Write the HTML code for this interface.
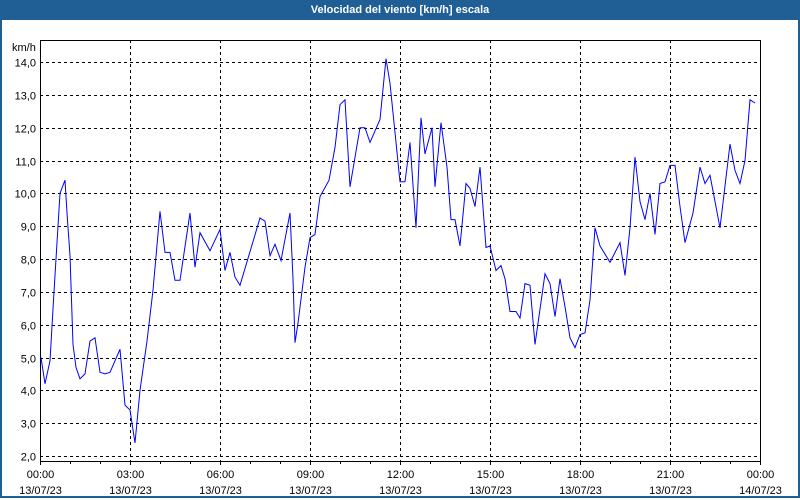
<!DOCTYPE html>
<html><head><meta charset="utf-8"><style>
html,body{margin:0;padding:0;background:#fff;}
#win{position:relative;width:796px;height:496px;border:2px solid #1f5f96;border-top:none;background:#fff;overflow:hidden;}
#title{position:absolute;left:-2px;top:0;width:800px;height:20px;background:#1f5f96;color:#fff;font:bold 11px "Liberation Sans",sans-serif;text-align:center;line-height:20px;}
svg{position:absolute;left:-2px;top:0;}
text{font-family:"Liberation Sans",sans-serif;font-size:11px;fill:#000;}
</style></head><body>
<div id="win">
<div id="title">Velocidad del viento [km/h] escala</div>
<svg id="chart" width="800" height="500"></svg>
</div>
<script>
const yTicks=[2,3,4,5,6,7,8,9,10,11,12,13,14];
const xTickHours=[0,3,6,9,12,15,18,21,24];
const xTickTimes=["00:00","03:00","06:00","09:00","12:00","15:00","18:00","21:00","00:00"];
const xTickDates=["13/07/23","13/07/23","13/07/23","13/07/23","13/07/23","13/07/23","13/07/23","13/07/23","14/07/23"];
const pxX=[41,45,50,54,60,65,67,70,73,76,80,85,90,95,100,105,110,120,125,130,135,140,147,153,160,165,170,175,180,190,195,200,210,220,225,230,235,240,260,265,270,275,281,290,293,295,298,305,310,315,320,329,335,340,345,350,360,365,370,380,386,390,395,400,405,410,416,421,425,432,435,441,447,451,455,460,466,470,475,480,486,490,496,501,505,510,516,520,525,530,535,545,550,555,560,565,570,575,580,585,590,595,600,610,620,625,630,635,640,645,650,655,660,665,670,675,680,685,693,700,705,710,720,730,735,740,745,750,755];
const hours=pxX.map(x=>(x-40)/30);
const speeds=[5.0,4.2,4.9,7.0,10.0,10.4,9.4,8.1,5.4,4.7,4.35,4.5,5.5,5.6,4.55,4.5,4.55,5.25,3.55,3.4,2.4,4.0,5.5,7.05,9.45,8.2,8.2,7.35,7.35,9.4,7.75,8.8,8.25,8.9,7.65,8.2,7.45,7.2,9.25,9.15,8.1,8.45,7.95,9.4,7.4,5.45,6.05,7.75,8.65,8.75,9.9,10.4,11.4,12.7,12.85,10.2,12.0,12.0,11.55,12.25,14.1,13.35,11.85,10.35,10.35,11.55,8.95,12.3,11.2,12.0,10.2,12.15,10.8,9.2,9.2,8.4,10.3,10.15,9.6,10.8,8.35,8.4,7.65,7.8,7.4,6.4,6.4,6.2,7.25,7.2,5.4,7.55,7.25,6.25,7.4,6.55,5.6,5.3,5.7,5.75,6.75,8.95,8.4,7.9,8.5,7.5,8.95,11.1,9.75,9.2,10.0,8.75,10.3,10.35,10.85,10.85,9.6,8.5,9.4,10.8,10.3,10.55,8.95,11.5,10.7,10.3,11.0,12.85,12.75];
const L=40,R=760,T=40,B=461;
const xs=h=>L+h*30;
const ys=v=>456-(v-2)*(394/12);
const svg=document.getElementById('chart');
const NS='http://www.w3.org/2000/svg';
function mk(tag,attrs){const e=document.createElementNS(NS,tag);for(const k in attrs)e.setAttribute(k,attrs[k]);svg.appendChild(e);return e;}
yTicks.forEach(v=>{
  const y=Math.round(ys(v))+0.5;
  const g=mk('line',{x1:L,x2:R,y1:y,y2:y,stroke:'#000','stroke-dasharray':'3,3','stroke-width':1});
  
  
  const t=mk('text',{x:36,y:y+4,'text-anchor':'end'});
  t.textContent=v.toFixed(1).replace('.',',');
  
  
});
xTickHours.forEach((h,i)=>{
  const x=Math.round(xs(h))+0.5;
  if(h>0&&h<24){const g=mk('line',{x1:x,x2:x,y1:T,y2:B,stroke:'#000','stroke-dasharray':'3,3','stroke-width':1});
  
  }
  const tk=mk('line',{x1:x,x2:x,y1:B,y2:B+4,stroke:'#000'});
  
  
  const t1=mk('text',{x:x,y:478,'text-anchor':'middle'});
  t1.textContent=xTickTimes[i];
  
  
  const t2=mk('text',{x:x,y:494,'text-anchor':'middle'});
  t2.textContent=xTickDates[i];
  
  
});
for(let h=1;h<24;h++){if(h%3===0)continue;const x=Math.round(xs(h))+0.5;
  const tk=mk('line',{x1:x,x2:x,y1:B,y2:B+3,stroke:'#000'});
  
  }
const frame=mk('rect',{x:L+0.5,y:T+0.5,width:R-L,height:B-T,fill:'none',stroke:'#000'});


const unit=mk('text',{x:12,y:51});
unit.textContent='km/h';


const pts=hours.map((h,i)=>xs(h).toFixed(1)+','+ys(speeds[i]).toFixed(1)).join(' ');
const line=mk('polyline',{points:pts,fill:'none',stroke:'#0000ff','stroke-width':1});


</script>
</body></html>
